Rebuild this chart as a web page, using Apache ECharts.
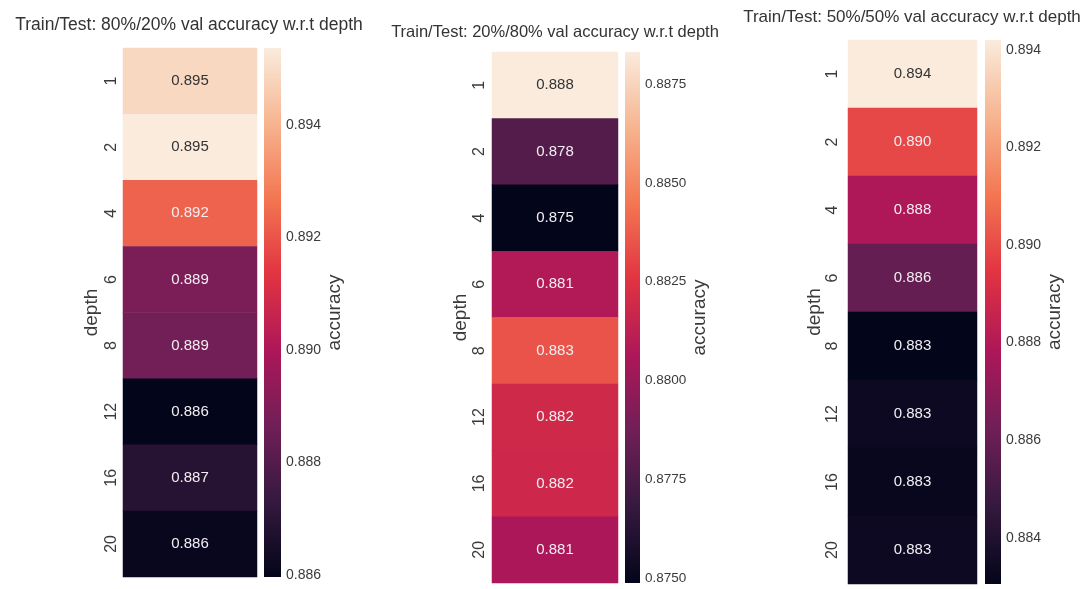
<!DOCTYPE html>
<html>
<head>
<meta charset="utf-8">
<script src="https://cdn.jsdelivr.net/npm/echarts@6/dist/echarts.min.js"></script>
<style>
  html, body { margin: 0; padding: 0; background: #ffffff; }
  #chart { width: 1092px; height: 589px; }
</style>
</head>
<body>
<div id="chart"></div>
<script>
// Validation accuracy of the tree model for each max depth, three train/test splits
const depths = ['1', '2', '4', '6', '8', '12', '16', '20'];
const acc8020 = [0.8949, 0.89537, 0.8923, 0.8889, 0.8887, 0.88596, 0.8869, 0.8861];
const acc2080 = [0.88832, 0.8778, 0.87487, 0.8808, 0.88348, 0.8819, 0.8818, 0.8806];
const acc5050 = [0.8942, 0.8899, 0.8879, 0.8859, 0.88305, 0.8834, 0.8832, 0.8834];

// Colour-bar tick labels
const ticks8020 = [0.886, 0.888, 0.890, 0.892, 0.894];
const ticks2080 = [0.8750, 0.8775, 0.8800, 0.8825, 0.8850, 0.8875];
const ticks5050 = [0.884, 0.886, 0.888, 0.890, 0.892, 0.894];

const titles = [
  'Train/Test: 80%/20% val accuracy w.r.t depth',
  'Train/Test: 20%/80% val accuracy w.r.t depth',
  'Train/Test: 50%/50% val accuracy w.r.t depth'
];

// "rocket" colour map stops, dark to light
const rocket = ['#03051a', '#35193e', '#701f57', '#ad1759', '#e13342', '#f37651', '#f6b48f', '#faebdd'];

const SANS = "'Liberation Sans', Arial, sans-serif";
const TEXT = '#3a3a3a';

// layout of each panel: heatmap box, colour-bar box, title placement, font sizes
const panels = [
  { values: acc8020, ticks: ticks8020, digits: 3, heat: { left: 123, top: 48, width: 134, height: 529 },
    bar: { left: 264, width: 17 }, title: { x: 189, y: 16, size: 17.5 }, tickSize: 14,
    labelMargin: 3, nameGap: 22, cbNameGap: 39 },
  { values: acc2080, ticks: ticks2080, digits: 4, heat: { left: 492, top: 52, width: 126, height: 531 },
    bar: { left: 625, width: 15 }, title: { x: 555, y: 24, size: 16.5 }, tickSize: 13.5,
    labelMargin: 4, nameGap: 22, cbNameGap: 42 },
  { values: acc5050, ticks: ticks5050, digits: 3, heat: { left: 848, top: 40, width: 129, height: 544 },
    bar: { left: 985, width: 16 }, title: { x: 912, y: 9, size: 17 }, tickSize: 14,
    labelMargin: 7, nameGap: 24, cbNameGap: 40 }
];

const gradientStops = rocket.map((c, i) => ({ offset: i / (rocket.length - 1), color: c }));

const option = {
  backgroundColor: '#ffffff',
  animation: false,
  title: [],
  grid: [],
  xAxis: [],
  yAxis: [],
  visualMap: [],
  series: []
};

panels.forEach((p, k) => {
  const lo = Math.min(...p.values);
  const hi = Math.max(...p.values);
  const heatGrid = k * 2;
  const barGrid = k * 2 + 1;

  option.title.push({
    text: titles[k],
    left: p.title.x,
    top: p.title.y,
    textAlign: 'center',
    padding: 0,
    textStyle: { fontFamily: SANS, fontSize: p.title.size, fontWeight: 'normal', color: '#333333' }
  });

  option.grid.push({ left: p.heat.left, top: p.heat.top, width: p.heat.width, height: p.heat.height,
    containLabel: false, outerBoundsMode: 'none' });
  option.grid.push({ left: p.bar.left, top: p.heat.top, width: p.bar.width, height: p.heat.height,
    containLabel: false, outerBoundsMode: 'none' });

  // heatmap axes
  option.xAxis.push({ type: 'category', gridIndex: heatGrid, data: [''], show: false });
  option.yAxis.push({
    type: 'category', gridIndex: heatGrid, data: depths, inverse: true,
    axisLine: { show: false }, axisTick: { show: false }, splitLine: { show: false },
    axisLabel: { rotate: 90, margin: p.labelMargin, fontFamily: SANS, fontSize: 16, color: TEXT },
    name: 'depth', nameLocation: 'middle', nameRotate: 90, nameGap: p.nameGap,
    nameTextStyle: { fontFamily: SANS, fontSize: 19, color: TEXT }
  });

  // colour-bar axes
  option.xAxis.push({ type: 'category', gridIndex: barGrid, data: [''], show: false });
  option.yAxis.push({
    type: 'value', gridIndex: barGrid, position: 'right', min: lo, max: hi,
    axisLine: { show: false }, axisTick: { show: false }, splitLine: { show: false },
    axisLabel: {
      customValues: p.ticks, margin: 5, fontFamily: SANS, fontSize: p.tickSize, color: TEXT,
      formatter: v => Number(v).toFixed(p.digits)
    },
    name: 'accuracy', nameLocation: 'middle', nameRotate: 90, nameGap: p.cbNameGap,
    nameTextStyle: { fontFamily: SANS, fontSize: 19, color: TEXT }
  });

  option.visualMap.push({
    show: false, type: 'continuous', seriesIndex: k * 2, dimension: 2,
    min: lo, max: hi, inRange: { color: rocket }
  });

  option.series.push({
    type: 'heatmap',
    xAxisIndex: heatGrid, yAxisIndex: heatGrid,
    data: p.values.map((v, i) => ({
      value: [0, i, v],
      label: { color: (v - lo) / (hi - lo) > 0.8 ? '#333333' : '#f2eef2' }
    })),
    label: {
      show: true, fontFamily: SANS, fontSize: 15,
      formatter: prm => prm.value[2].toFixed(3)
    },
    itemStyle: { borderWidth: 0 },
    emphasis: { disabled: true }
  });

  // continuous colour bar spanning the data range
  option.series.push({
    type: 'custom',
    xAxisIndex: barGrid, yAxisIndex: barGrid,
    data: [[0, lo, hi]],
    encode: { x: 0, y: [1, 2] },
    silent: true,
    renderItem: (params, api) => {
      const top = api.coord([0, api.value(2)]);
      const bottom = api.coord([0, api.value(1)]);
      const w = api.size([1, 0])[0];
      return {
        type: 'rect',
        shape: { x: top[0] - w / 2, y: top[1], width: w, height: bottom[1] - top[1] },
        style: { fill: new echarts.graphic.LinearGradient(0, 1, 0, 0, gradientStops) }
      };
    }
  });
});

const chart = echarts.init(document.getElementById('chart'), null, { renderer: 'canvas' });
chart.setOption(option);
</script>
</body>
</html>
